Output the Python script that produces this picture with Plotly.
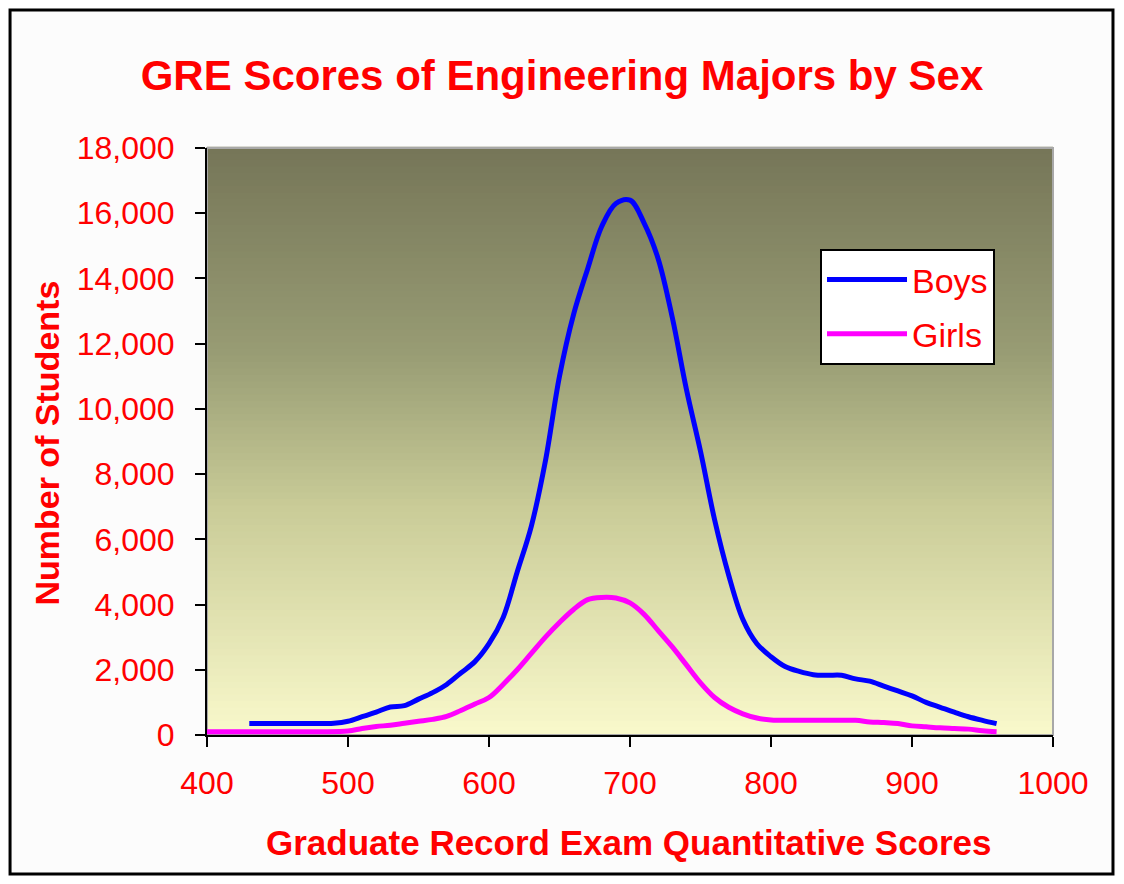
import plotly.graph_objects as go

# GRE quantitative score vs. number of students
boys_scores = [430, 450, 470, 490, 500, 510, 520, 530, 540, 550, 560, 570, 580,
               590, 600, 610, 620, 630, 640, 650, 660, 670, 680, 690, 700, 710,
               720, 730, 740, 750, 760, 770, 780, 790, 800, 810, 820, 830, 840,
               850, 860, 870, 880, 890, 900, 910, 920, 930, 940, 950, 960]
boys_counts = [350, 350, 350, 360, 420, 560, 700, 860, 900, 1100, 1300, 1550, 1900,
               2250, 2800, 3600, 5000, 6400, 8400, 11000, 12900, 14300, 15600, 16300, 16400, 15700,
               14600, 12800, 10600, 8700, 6600, 4900, 3550, 2800, 2400, 2100, 1950, 1850, 1830,
               1830, 1720, 1650, 1500, 1350, 1200, 1000, 850, 700, 560, 450, 350]

girls_scores = [400, 420, 440, 460, 480, 500, 510, 520, 530, 540, 550, 560, 570,
                580, 590, 600, 610, 620, 630, 640, 650, 660, 670, 680, 690, 700,
                710, 720, 730, 740, 750, 760, 770, 780, 790, 800, 820, 840, 860,
                870, 880, 890, 900, 910, 920, 930, 940, 950, 960]
girls_counts = [100, 100, 100, 100, 100, 120, 200, 260, 300, 360, 420, 480, 570,
                750, 950, 1150, 1550, 2000, 2500, 3000, 3450, 3850, 4150, 4220, 4200, 4050,
                3700, 3200, 2700, 2150, 1600, 1150, 850, 650, 520, 460, 450, 450, 450,
                400, 380, 350, 280, 250, 220, 200, 180, 130, 100]

x_ticks = [400, 500, 600, 700, 800, 900, 1000]
y_ticks = list(range(0, 18001, 2000))

RED = '#ff0000'
FONT = 'Liberation Sans, Arial, sans-serif'

fig = go.Figure()
fig.add_trace(go.Scatter(
    x=boys_scores, y=boys_counts, name='Boys', mode='lines', legendgroup='boys',
    line=dict(color='#0000ff', width=5, shape='spline', smoothing=1.0)
))
fig.add_trace(go.Scatter(
    x=girls_scores, y=girls_counts, name='Girls', mode='lines', legendgroup='girls',
    line=dict(color='#ff00ff', width=5, shape='spline', smoothing=1.0)
))

# background gradient of the plot area (dark olive on top, pale yellow at bottom)
stops = [(0.0, (118, 118, 88)), (0.35, (152, 156, 116)),
         (0.62, (202, 204, 152)), (1.0, (248, 248, 202))]


def grad_color(t):
    for (t0, c0), (t1, c1) in zip(stops[:-1], stops[1:]):
        if t <= t1:
            f = (t - t0) / (t1 - t0)
            return 'rgb(%d,%d,%d)' % tuple(round(a + (b - a) * f) for a, b in zip(c0, c1))
    return 'rgb(%d,%d,%d)' % stops[-1][1]


n_bands = 90
for i in range(n_bands):
    t = i / (n_bands - 1)
    fig.add_shape(
        type='rect', xref='x domain', yref='y domain',
        x0=0, x1=1, y0=1 - (i + 1) / n_bands, y1=1 - i / n_bands + 0.002,
        fillcolor=grad_color(t), line_width=0, layer='below'
    )

# light grey frame of the plot area
fig.add_shape(type='rect', xref='x domain', yref='y domain', x0=0, x1=1, y0=0, y1=1,
              line=dict(color='#a8a8a8', width=2), layer='below')

# outer black frame of the chart
fig.add_shape(type='rect', xref='paper', yref='paper',
              x0=-0.2328, x1=1.0709, y0=-0.2368, y1=1.2351,
              line=dict(color='black', width=3), fillcolor='rgba(0,0,0,0)')

fig.add_annotation(text='<b>Graduate Record Exam Quantitative Scores</b>',
                   xref='paper', yref='paper', x=0.4994, y=-0.1823,
                   xanchor='center', yanchor='middle',
                   showarrow=False, font=dict(family=FONT, size=35, color=RED))
fig.add_annotation(text='<b>Number of Students</b>', textangle=-90,
                   xref='paper', yref='paper', x=-0.189, y=0.4966,
                   xanchor='center', yanchor='middle',
                   showarrow=False, font=dict(family=FONT, size=34, color=RED))

fig.update_layout(
    width=1108, height=868,
    margin=dict(l=199, r=63, t=140, b=141),
    paper_bgcolor='#fcfcfc',
    plot_bgcolor='rgba(0,0,0,0)',
    font=dict(family=FONT, size=32, color=RED),
    title=dict(text='<b>GRE Scores of Engineering Majors by Sex</b>',
               x=0.5, xanchor='center', y=0.9228, yanchor='middle',
               font=dict(family=FONT, size=42, color=RED)),
    showlegend=True,
    legend=dict(x=0.7246, y=0.828, xanchor='left', yanchor='top',
                bgcolor='white', bordercolor='black', borderwidth=2,
                font=dict(family=FONT, size=34, color=RED),
                itemwidth=80, traceorder='grouped', tracegroupgap=7),
    xaxis=dict(range=[400, 1000], tickvals=x_ticks, showgrid=False, zeroline=False,
               showline=True, linecolor='black', linewidth=2,
               ticks='outside', ticklen=10, tickwidth=2, tickcolor='black',
               ticklabelstandoff=9),
    yaxis=dict(range=[0, 18000], tickvals=y_ticks, tickformat=',d', showgrid=False,
               zeroline=False, showline=True, linecolor='black', linewidth=2,
               ticks='outside', ticklen=10, tickwidth=2, tickcolor='black',
               ticklabelstandoff=14),
)

fig.write_html('out.html')
